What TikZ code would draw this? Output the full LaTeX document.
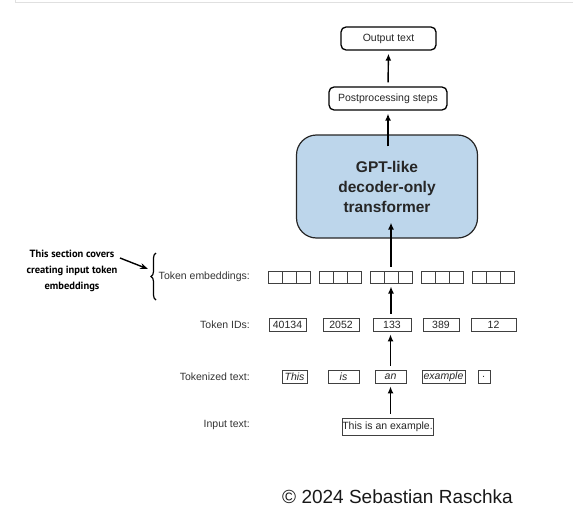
\documentclass[tikz,border=0pt]{standalone}
\usepackage{fontspec}
\setmainfont{Liberation Sans}
\newfontfamily\notefont{PT Sans}
\usetikzlibrary{arrows.meta,decorations.pathreplacing}
\definecolor{gptblue}{RGB}{189,214,235}

\begin{document}
\begin{tikzpicture}
	[x=1pt, y=-1pt,
	textbox/.style={draw=black, line width=1.3pt, rounded corners=5pt,
		inner sep=0pt, minimum height=23pt, text=black!85,
		font=\fontsize{10.5}{12}\selectfont},
	gptbox/.style={draw=black!85, line width=1.2pt, fill=gptblue,
		rounded corners=20pt, minimum width=181pt, minimum height=103pt,
		align=center, text=black!85, font=\fontsize{15.5}{20}\selectfont\bfseries},
	embsq/.style={draw=black!75, line width=1pt, minimum width=14pt,
		minimum height=12pt, inner sep=0pt},
	tokbox/.style={draw=black!75, line width=0.8pt, minimum height=13pt,
		inner sep=0pt, text=black!85, font=\fontsize{10.5}{12}\selectfont},
	rowlabel/.style={anchor=east, inner sep=0pt, text=black!80,
		font=\fontsize{10.5}{12}\selectfont},
	uparrow/.style={line width=1.4pt, -{Latex[length=7pt,width=6pt]},
		shorten <=4pt, shorten >=3pt}]
	
	\useasboundingbox (0,0) rectangle (573,522);
	\draw[black!12, line width=1pt] (15,0) -- (15,2) -- (573,2);
	
	\node[textbox, minimum width=95pt] (output) at (388.5,38.5) {Output text};
	\node[textbox, minimum width=118pt] (post) at (388,98.5) {Postprocessing steps};
	\node[gptbox] (gpt) at (387,186.5) {GPT-like\\decoder-only\\transformer};
	
	\foreach \x [count=\i] in {289,340,391,442,493} {
		\node[embsq] (emb\i) at (\x,277) {};
		\node[embsq] (emb\i l) at (\x-14,277) {};
		\node[embsq] (emb\i r) at (\x+14,277) {};
	}
	
	\foreach \x/\w/\t [count=\i] in {287.5/37/40134, 341/36/2052, 392/38/133,
		441/36/389, 493.5/45/12}
		\node[tokbox, minimum width=\w pt] (id\i) at (\x,324.5) {\t};
	
	\foreach \x/\w/\t [count=\i] in {294.5/25/This, 343.5/31/is, 390.5/31/an,
		443.5/43/example, 484/12/.}
		\node[tokbox, minimum width=\w pt, font=\fontsize{10.5}{12}\selectfont\itshape]
			(tok\i) at (\x,376.5) {\t};
	
	\node[tokbox, minimum width=91pt, minimum height=17pt,
		font=\fontsize{10.5}{12}\selectfont] (input) at (387.5,426.5) {This is an example.};
	
	\node[rowlabel] (lblemb) at (250,277) {Token embeddings:};
	\node[rowlabel] (lblid) at (250,324.5) {Token IDs:};
	\node[rowlabel] (lbltok) at (250,377) {Tokenized text:};
	\node[rowlabel] (lblin) at (250,425) {Input text:};
	
	\draw[uparrow] (input.north -| tok3) -- (tok3.south);
	\draw[uparrow] (tok3.north) -- (tok3.north |- id3.south);
	\draw[uparrow] (id3.north -| emb3) -- (emb3.south);
	\draw[uparrow, shorten >=-16pt] (emb3.north) -- (emb3.north |- gpt.south);
	\draw[uparrow, shorten <=-12pt] (gpt.north -| post) -- (post.south);
	\draw[uparrow] (post.north) -- (output.south);
	
	\draw[decorate, decoration={brace, amplitude=5pt}, line width=1.2pt]
		(156,300) -- (156,253);
	\node[align=center, font=\notefont\bfseries\fontsize{10.5}{16}\selectfont]
		(note) at (72,271) {This section covers\\creating input token\\embeddings};
	\coordinate (notestart) at (120,258);
	\coordinate (bracetip) at (148,269);
	\draw[line width=1.4pt, -{Stealth[length=8pt,width=6pt]}] (notestart) -- (bracetip);
	
	\node[font=\fontsize{19}{22}\selectfont, text=black!90] (copyright)
		at (397.5,497) {© 2024 Sebastian Raschka};
\end{tikzpicture}
\end{document}
